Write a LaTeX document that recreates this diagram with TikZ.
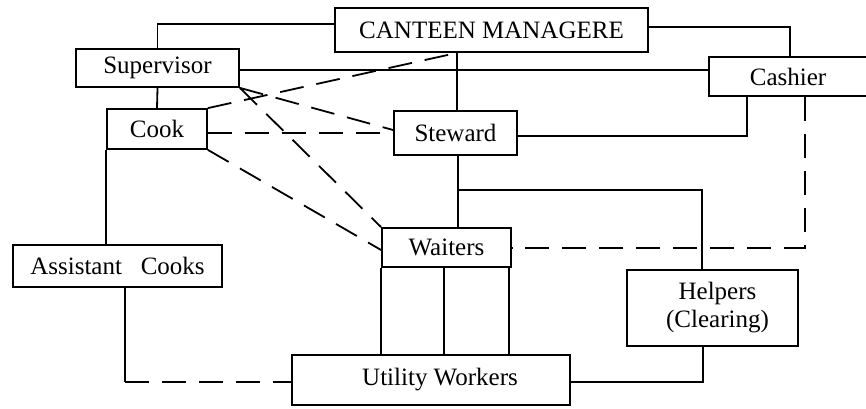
\documentclass[tikz,border=0pt]{standalone}
\usepackage{fontspec}
\setmainfont{Liberation Serif}
\begin{document}
\begin{tikzpicture}[x=1pt,y=-1pt,
  box/.style={draw,line width=1.8pt,inner sep=0pt,anchor=center,font=\fontsize{25}{28}\selectfont,align=center},
  conn/.style={line width=1.8pt},
  dconn/.style={line width=1.8pt,dash pattern=on 24pt off 13pt}]
\useasboundingbox (0,0) rectangle (866,408);
\node[box,minimum width=313pt,minimum height=44pt] (cm) at (491.5,30) {CANTEEN MANAGERE};
\node[box,minimum width=163pt,minimum height=38pt] (sup) at (157.5,68) {Supervisor};
\node[box,minimum width=100pt,minimum height=40pt] (cook) at (157,129) {Cook};
\node[box,minimum width=123pt,minimum height=44pt] (st) at (455.5,133) {Steward};
\node[box,minimum width=158pt,minimum height=39pt] (cash) at (788,76.5) {Cashier};
\node[box,minimum width=209pt,minimum height=42pt] (ac) at (117.5,266) {Assistant\hspace{0.75em}Cooks};
\node[box,minimum width=129pt,minimum height=39pt] (wt) at (446.5,247.5) {Waiters};
\node[box,minimum width=171pt,minimum height=76pt] (hp) at (712.5,308) {\hspace{10pt}Helpers\\\hspace{10pt}(Clearing)};
\node[box,minimum width=278pt,minimum height=50pt] (uw) at (431,380) {\hspace{18pt}Utility Workers};
% solid connectors
\draw[conn] (sup.north) -- (sup.north |- 0,24) -- (cm.west |- 0,24);
\draw[conn] (sup.east |- 0,70) -- (cash.west |- 0,70);
\draw[conn] (sup.south) -- (cook.north);
\draw[conn] (cook.south west) -- (cook.south west |- ac.north);
\draw[conn] (cm.south -| 457,0) -- (st.north -| 457,0);
\draw[conn] (cm.east |- 0,27) -| (cash.north -| 790,0);
\draw[conn] (st.east |- 0,136) -| (cash.south -| 747,0);
\draw[conn] (st.south -| 458,0) -- (wt.north -| 458,0);
\coordinate (br) at (458,190);
\draw[conn] (br) -| (hp.north -| 702,0);
\draw[conn] (wt.south west) -- (uw.north -| wt.south west);
\draw[conn] (wt.south -| 444,0) -- (uw.north -| 444,0);
\draw[conn] (wt.south -| 509,0) -- (uw.north -| 509,0);
\draw[conn] (hp.south -| 703,0) |- (uw.east |- 0,382);
\coordinate (acc) at (125,382);
\draw[conn] (ac.south -| acc) -- (acc);
% dashed connectors
\draw[dconn] (acc) -- (uw.west |- acc);
\draw[dconn] (cash.south -| 805,0) |- (wt.east |- 0,248);
\draw[dconn] (cook.north east) -- (cm.south -| 457,0);
\draw[dconn] (sup.south east) -- (st.west |- 0,130);
\draw[dconn] (sup.south east) -- (wt.north west);
\draw[dconn] (cook.east |- 0,133) -- (st.west |- 0,133);
\draw[dconn] (cook.south east) -- (wt.west |- 0,250);
\end{tikzpicture}
\end{document}
